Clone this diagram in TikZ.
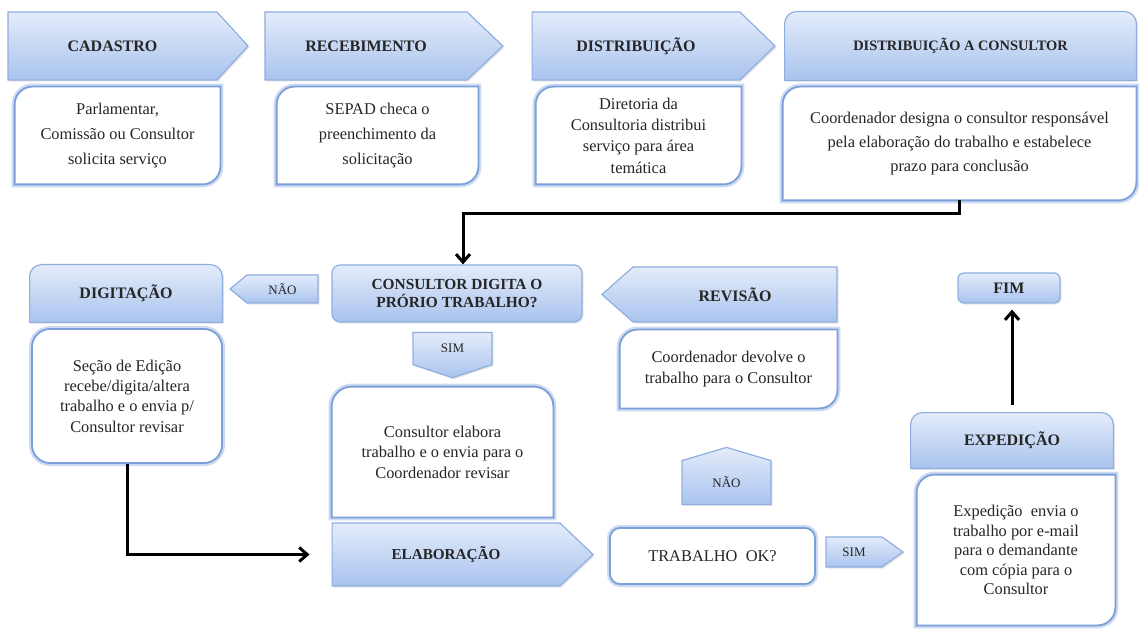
\documentclass[tikz,border=0pt]{standalone}
\usepackage{fontspec}
\setmainfont{Liberation Serif}
\usepackage{xcolor}
\usepackage{tikz}
\usetikzlibrary{shapes.symbols, arrows.meta, positioning, shadows, backgrounds}

\definecolor{headtop}{HTML}{E4ECFA}
\definecolor{headbot}{HTML}{A9C3EE}
\definecolor{headline}{HTML}{8FAEE0}
\definecolor{boxline}{HTML}{7C9FD8}
\definecolor{boxglow}{HTML}{CCDAF3}
\definecolor{inktext}{HTML}{262626}

\tikzset{
  head/.style={top color=headtop, bottom color=headbot, draw=headline, line width=0.6pt,
    drop shadow={opacity=0.18, shadow xshift=0.8pt, shadow yshift=-0.8pt},
    font=\bfseries\fontsize{8}{9.5}\selectfont, text=inktext, align=center, inner sep=0pt},
  chevron/.style={head, signal, signal to=#1},
  tag/.style={chevron=#1, font=\fontsize{6.5}{8}\selectfont},
  holder/.style={inner sep=0pt, align=center, text=inktext, font=\fontsize{8.2}{10.2}\selectfont},
  headtext/.style={holder, font=\bfseries\fontsize{8}{9.5}\selectfont},
  framebox/.style={fill=white, drop shadow={opacity=0.22, shadow xshift=1pt, shadow yshift=-1pt},
    preaction={draw=boxglow, line width=3pt}, draw=boxline, line width=0.9pt},
  flow/.style={-{Straight Barb[length=4pt,width=7pt]}, line width=1.5pt, black}
}

\begin{document}
\begin{tikzpicture}[x=0.5pt, y=-0.5pt]
\useasboundingbox (0,0) rectangle (1139,630);

% top row
\node[chevron=east, signal pointer angle=95, minimum width=120pt, minimum height=34pt] (cad) at (112.5,46) {CADASTRO};
\node[chevron=east, signal pointer angle=87, minimum width=119pt, minimum height=34pt] (rec) at (366,46) {RECEBIMENTO};
\node[chevron=east, signal pointer angle=88, minimum width=121.5pt, minimum height=34pt] (dis) at (636,46) {DISTRIBUIÇÃO};
\node[headtext, font=\bfseries\fontsize{7.2}{9}\selectfont, minimum width=175.5pt, minimum height=34pt] (dac) at (960.5,46) {DISTRIBUIÇÃO A CONSULTOR};

\node[holder, font=\fontsize{8.2}{12.3}\selectfont, minimum width=102.5pt, minimum height=48.5pt] (cadb) at (117.5,135.5) {Parlamentar,\\ Comissão ou Consultor\\ solicita serviço};
\node[holder, font=\fontsize{8.2}{12.3}\selectfont, minimum width=100.5pt, minimum height=48.5pt] (recb) at (377.5,135.5) {SEPAD checa o\\ preenchimento da\\ solicitação};
\node[holder, font=\fontsize{8.2}{10.7}\selectfont, minimum width=102.5pt, minimum height=48.5pt] (disb) at (638.5,135.5) {Diretoria da\\ Consultoria distribui\\ serviço para área\\ temática};
\node[holder, font=\fontsize{8.2}{12}\selectfont, minimum width=176.5pt, minimum height=56.5pt] (dacb) at (959.5,143.5) {Coordenador designa o consultor responsável\\ pela elaboração do trabalho e estabelece\\ prazo para conclusão};

% middle row
\node[headtext, minimum width=96pt, minimum height=28.5pt] (digh) at (126,293.5) {DIGITAÇÃO};
\node[holder, framebox, rounded corners=9pt, minimum width=95pt, minimum height=67pt] (digb) at (127,396) {Seção de Edição\\ recebe/digita/altera\\ trabalho e o envia p/\\ Consultor revisar};
\node[tag=west, signal pointer angle=79, minimum width=44pt, minimum height=14pt] (nao1) at (282.5,289) {NÃO};
\node[head, rounded corners=4pt, minimum width=125pt, minimum height=28.5pt, font=\bfseries\fontsize{7.7}{9.2}\selectfont] (cdq) at (457,293.5) {CONSULTOR DIGITA O\\ PRÓRIO TRABALHO?};
\node[tag=south, signal pointer angle=143, minimum width=39.5pt, minimum height=18pt] (sim1) at (452.5,348.5) {SIM};
\node[holder, minimum width=110.5pt, minimum height=65pt] (elabb) at (442.5,452) {Consultor elabora\\ trabalho e o envia para o\\ Coordenador revisar};
\node[chevron=east, signal pointer angle=87, minimum width=130.5pt, minimum height=31.5pt, font=\bfseries\fontsize{7.6}{9}\selectfont] (elab) at (446,554.5) {ELABORAÇÃO};

\node[chevron=west, signal pointer angle=83, minimum width=117.5pt, minimum height=27.5pt] (rev) at (735,294.5) {REVISÃO};
\node[holder, minimum width=108.5pt, minimum height=39pt] (revb) at (728.5,369) {Coordenador devolve o\\ trabalho para o Consultor};
\node[tag=north, signal pointer angle=147, minimum width=44.5pt, minimum height=24pt] (nao2) at (726.5,482.5) {NÃO};
\node[holder, framebox, rounded corners=5pt, minimum width=102.5pt, minimum height=28pt] (okq) at (712.5,556) {TRABALHO\ \ OK?};
\node[tag=east, signal pointer angle=71, minimum width=38.5pt, minimum height=15pt] (sim2) at (854,552) {SIM};

% right column
\node[head, rounded corners=3pt, minimum width=51pt, minimum height=15pt] (fim) at (1009,288) {FIM};
\node[headtext, minimum width=101pt, minimum height=27.5pt] (exph) at (1012,440.5) {EXPEDIÇÃO};
\node[holder, font=\fontsize{8.2}{9.8}\selectfont, minimum width=99pt, minimum height=75pt] (expb) at (1016,550) {Expedição\ \ envia o\\ trabalho por e-mail\\ para o demandante\\ com cópia para o\\ Consultor};

% frames behind the texts
\begin{scope}[on background layer]
\foreach \n in {cadb,recb,disb,dacb,revb,expb}
  \path[framebox] (\n.south west) -- ([yshift=-9pt]\n.north west) arc[start angle=180, end angle=90, radius=9pt]
    -- (\n.north east) -- ([yshift=9pt]\n.south east) arc[start angle=0, end angle=-90, radius=9pt] -- cycle;
\foreach \n in {dac,digh,exph}
  \path[head] (\n.south west) -- ([yshift=-6pt]\n.north west) arc[start angle=180, end angle=90, radius=6pt]
    -- ([xshift=-6pt]\n.north east) arc[start angle=90, end angle=0, radius=6pt] -- (\n.south east) -- cycle;
\path[framebox] (elabb.south west) -- ([yshift=-10pt]elabb.north west) arc[start angle=180, end angle=90, radius=10pt]
  -- ([xshift=-10pt]elabb.north east) arc[start angle=90, end angle=0, radius=10pt] -- (elabb.south east) -- cycle;
\end{scope}

% connectors
\draw[flow] (dacb.south) -- ++(0,13) -| ([xshift=3pt]cdq.north);
\draw[flow] (digb.south) |- ([xshift=-11pt]elab.west);
\draw[flow, shorten <=4pt, shorten >=3pt] (exph.north) -- (exph.north |- fim.south);
\end{tikzpicture}
\end{document}
